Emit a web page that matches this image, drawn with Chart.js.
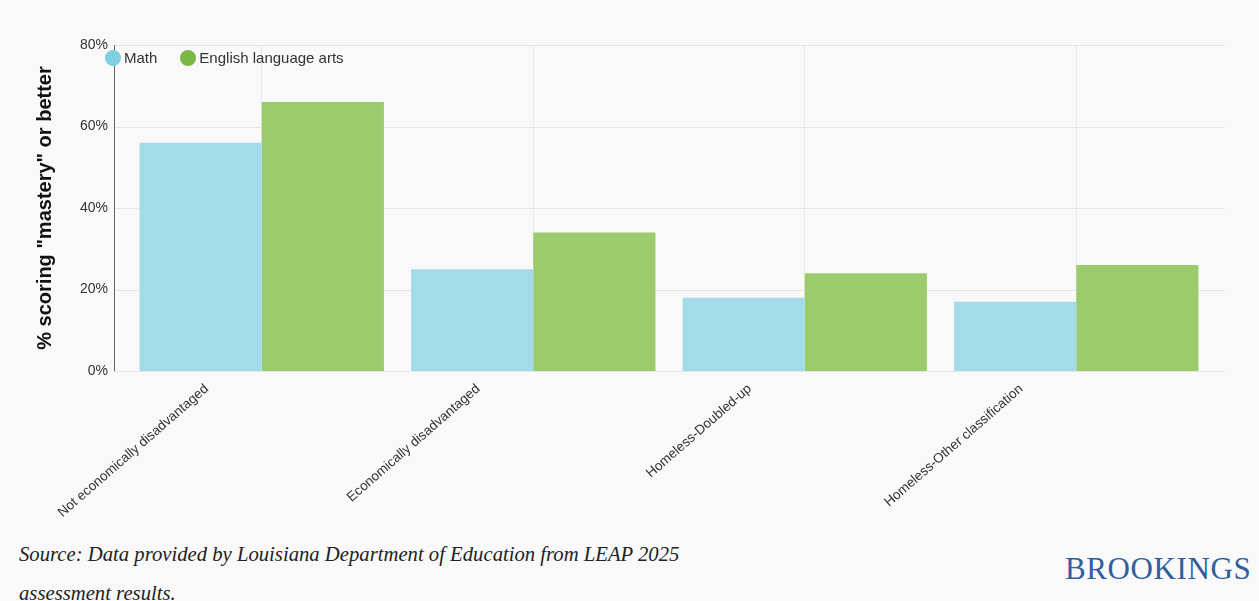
<!DOCTYPE html>
<html>
<head>
<meta charset="utf-8">
<script src="https://cdn.jsdelivr.net/npm/chart.js@4.4.1/dist/chart.umd.min.js"></script>
<style>
  html, body { margin:0; padding:0; background:#f9f9f9; width:1259px; height:601px; overflow:hidden; }
  #wrap { position:absolute; left:0; top:0; width:1259px; height:530px; }
  #legend { position:absolute; top:49px; left:105px; font-family:"Liberation Sans", Arial, sans-serif; font-size:15px; color:#333; display:flex; align-items:center; }
  .item { display:flex; align-items:center; margin-right:23px; }
  .dot { width:16px; height:16px; border-radius:50%; margin-right:3px; }
  #source { position:absolute; left:19px; top:535px; font-family:"Liberation Serif", serif; font-style:italic; font-size:20.7px; color:#222; line-height:39px; }
  #brand { position:absolute; left:1065px; top:551px; font-family:"Liberation Serif", serif; font-size:31px; color:#2f5f9c; letter-spacing:0.6px; }
</style>
</head>
<body>
<div id="wrap"><canvas id="c"></canvas></div>
<div id="legend"></div>
<div id="source">Source: Data provided by Louisiana Department of Education from LEAP 2025<br>assessment results.</div>
<div id="brand">BROOKINGS</div>
<script>
const categories = ["Not economically disadvantaged", "Economically disadvantaged", "Homeless-Doubled-up", "Homeless-Other classification"];
const seriesNames = ["Math", "English language arts"];
const mathValues = [56, 25, 18, 17];
const elaValues = [66, 34, 24, 26];
const yTicks = [0, 20, 40, 60, 80];

const barColors = ["#a3dce8", "#9ccb6e"];
const dotColors = ["#7fd0e0", "#7ab648"];

const legend = document.getElementById("legend");
seriesNames.forEach((n, i) => {
  const it = document.createElement("div");
  it.className = "item";
  it.innerHTML = '<span class="dot" style="background:' + dotColors[i] + '"></span><span>' + n + '</span>';
  legend.appendChild(it);
});

// horizontal gridlines and y axis line extending slightly beyond the category band
const extendedGrid = {
  id: "extendedGrid",
  beforeDatasetsDraw(chart) {
    const { ctx, chartArea, scales } = chart;
    const left = chartArea.left - 12, right = chartArea.right + 13;
    ctx.save();
    ctx.lineWidth = 1;
    ctx.strokeStyle = "#e6e6e6";
    scales.y.ticks.forEach(t => {
      const y = Math.round(scales.y.getPixelForValue(t.value)) + 0.5;
      ctx.beginPath(); ctx.moveTo(left, y); ctx.lineTo(right, y); ctx.stroke();
    });
    ctx.strokeStyle = "#666";
    const x = Math.round(left) + 0.5;
    ctx.beginPath();
    ctx.moveTo(x, scales.y.getPixelForValue(scales.y.max));
    ctx.lineTo(x, scales.y.getPixelForValue(scales.y.min));
    ctx.stroke();
    ctx.restore();
  }
};

new Chart(document.getElementById("c"), {
  type: "bar",
  data: {
    labels: categories,
    datasets: [
      { label: seriesNames[0], data: mathValues, backgroundColor: barColors[0], categoryPercentage: 0.9, barPercentage: 1.0 },
      { label: seriesNames[1], data: elaValues, backgroundColor: barColors[1], categoryPercentage: 0.9, barPercentage: 1.0 }
    ]
  },
  plugins: [extendedGrid],
  options: {
    responsive: true,
    maintainAspectRatio: false,
    animation: false,
    layout: { padding: { top: 45, right: 47, left: 33, bottom: 0 } },
    plugins: { legend: { display: false }, tooltip: { enabled: false } },
    scales: {
      x: {
        grid: { offset: false, color: "#e8e8e8", drawTicks: false },
        border: { display: false },
        ticks: {
          autoSkip: false, maxRotation: 41, minRotation: 41,
          labelOffset: -55, padding: 10,
          color: "#333", font: { family: "'Liberation Sans', Arial, sans-serif", size: 13.5 }
        },
        afterFit: (s) => { s.height = 159; }
      },
      y: {
        min: 0, max: 80,
        afterBuildTicks: (s) => { s.ticks = yTicks.map(v => ({ value: v })); },
        grid: { display: false, drawTicks: false },
        border: { display: false },
        ticks: {
          padding: 18, color: "#333",
          font: { family: "'Liberation Sans', Arial, sans-serif", size: 14 },
          callback: (v) => v + "%"
        },
        title: {
          display: true, text: '% scoring "mastery" or better', color: "#111",
          font: { family: "'Liberation Sans', Arial, sans-serif", size: 20, weight: "bold" },
          padding: 0
        },
        afterFit: (s) => { s.width = 93; }
      }
    }
  }
});
</script>
</body>
</html>
